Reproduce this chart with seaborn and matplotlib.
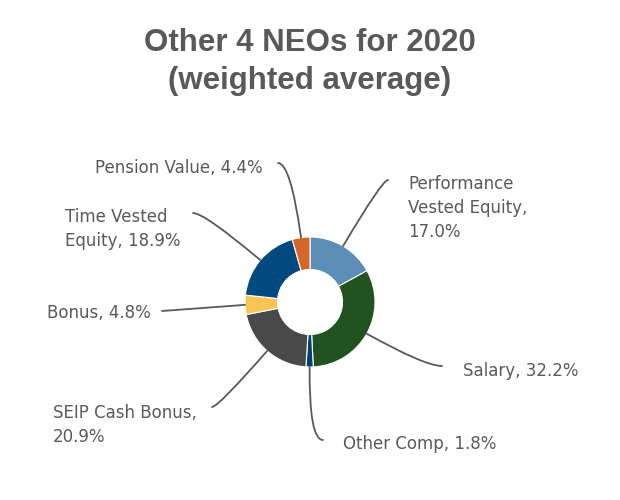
import numpy as np
import matplotlib
matplotlib.use('Agg')
import matplotlib.pyplot as plt
import seaborn as sns

# data (clockwise from 12 o'clock)
categories = ['Performance Vested Equity', 'Salary', 'Other Comp', 'SEIP Cash Bonus',
              'Bonus', 'Time Vested Equity', 'Pension Value']
shares = [17.0, 32.2, 1.8, 20.9, 4.8, 18.9, 4.4]
label_texts = ['Performance\nVested Equity,\n17.0%', 'Salary, 32.2%', 'Other Comp, 1.8%',
               'SEIP Cash Bonus,\n20.9%', 'Bonus, 4.8%', 'Time Vested\nEquity, 18.9%',
               'Pension Value, 4.4%']
colors = ['#5B8DB6', '#21521F', '#004270', '#494949', '#F8C453', '#004A7F', '#D4662A']

# label placement in pixels (top-left origin): text anchor and leader start
text_pos = [(408, 208), (463, 371), (343, 444), (53, 425), (47, 313), (65, 229), (95, 168)]
line_start = [(388, 180), (442, 366), (323, 440), (212, 407), (162, 311), (193, 213), (278, 163)]

W, H = 620, 500
sns.set_theme(style='white')
plt.rcParams['font.family'] = ['DejaVu Sans']

fig = plt.figure(figsize=(W / 100, H / 100), dpi=100)
fig.patch.set_facecolor('white')

cx, cy, r = 310, 302, 65
ax = fig.add_axes([(cx - r) / W, (H - cy - r) / H, 2 * r / W, 2 * r / H])
wedges, _ = ax.pie(shares, colors=colors, startangle=90, counterclock=False,
                   wedgeprops=dict(width=0.5, edgecolor='white', linewidth=0.8))
ax.set_xlim(-1, 1)
ax.set_ylim(-1, 1)
ax.set_aspect('equal')
ax.axis('off')

grey = '#595959'
for w, txt, tp, ls in zip(wedges, label_texts, text_pos, line_start):
    mid = (w.theta1 + w.theta2) / 2
    ang = np.deg2rad(mid)
    xy = (np.cos(ang), np.sin(ang))
    # leader leaves the label horizontally and reaches the ring radially
    if abs(np.sin(ang)) < 0.2:
        conn = 'arc3,rad=0'
    else:
        conn = f'angle3,angleA=0,angleB={mid:.1f}'
    ax.annotate('', xy=xy, xycoords='data',
                xytext=(ls[0], H - ls[1]), textcoords='figure pixels',
                arrowprops=dict(arrowstyle='-', color=grey, lw=1.3,
                                shrinkA=0, shrinkB=0, connectionstyle=conn),
                annotation_clip=False)
    fig.text(tp[0] / W, 1 - tp[1] / H, txt, ha='left', va='center',
             fontsize=12, color=grey, linespacing=1.4)

fig.text(0.5, 1 - 62 / H, 'Other 4 NEOs for 2020\n(weighted average)',
         ha='center', va='center', fontsize=22.5, fontweight='bold',
         color=grey, family=['Liberation Sans', 'DejaVu Sans'], linespacing=1.36)

fig.savefig('out.png', dpi=100, facecolor='white')
